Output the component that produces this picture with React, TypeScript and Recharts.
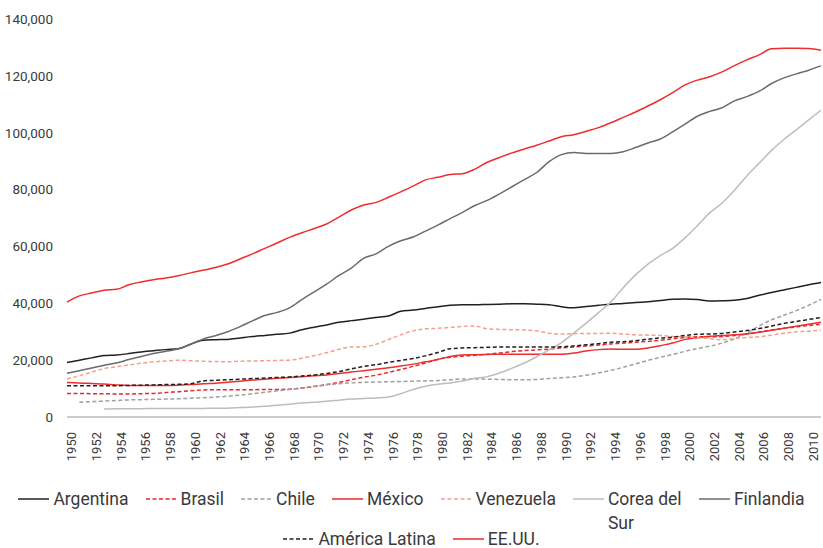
import React from "react";
import { LineChart, Line, XAxis, YAxis, Legend } from "recharts";

const years = [
  1950, 1951, 1952, 1953, 1954, 1955, 1956, 1957, 1958, 1959,
  1960, 1961, 1962, 1963, 1964, 1965, 1966, 1967, 1968, 1969,
  1970, 1971, 1972, 1973, 1974, 1975, 1976, 1977, 1978, 1979,
  1980, 1981, 1982, 1983, 1984, 1985, 1986, 1987, 1988, 1989,
  1990, 1991, 1992, 1993, 1994, 1995, 1996, 1997, 1998, 1999,
  2000, 2001, 2002, 2003, 2004, 2005, 2006, 2007, 2008, 2009,
  2010, 2011,
];

const argentina = [
  19200, 20000, 20800, 21600, 21800, 22300, 22900, 23300, 23700, 24000,
  25600, 27000, 27200, 27300, 27800, 28300, 28700, 29100, 29500, 30700,
  31600, 32400, 33300, 33900, 34400, 35000, 35500, 37200, 37600, 38200,
  38800, 39300, 39500, 39500, 39600, 39700, 39800, 39800, 39700, 39500,
  38800, 38400, 38900, 39300, 39700, 39900, 40300, 40500, 41000, 41400,
  41500, 41300, 40800, 40900, 41100, 41700, 42800, 43800, 44700, 45600,
  46500, 47300,
];

const brasil = [
  8300, 8300, 8200, 8200, 8100, 8100, 8200, 8300, 8600, 8900,
  9200, 9500, 9600, 9600, 9600, 9600, 9700, 9700, 9800, 10200,
  10700, 11400, 12200, 13100, 14000, 14700, 15700, 16700, 17800, 19000,
  20300, 21000, 21400, 21700, 22100, 22500, 23000, 23400, 23600, 23900,
  24300, 24600, 25000, 25300, 25700, 26000, 26300, 26600, 27000, 27500,
  28000, 28200, 28200, 28300, 28700, 29200, 29900, 30600, 31200, 31700,
  32200, 32600,
];

const chile = [
  null, 5200, 5400, 5600, 5800, 6000, 6100, 6200, 6300, 6400,
  6600, 6800, 7000, 7300, 7700, 8200, 8700, 9200, 9700, 10200,
  10800, 11300, 11700, 12000, 12200, 12300, 12400, 12500, 12600, 12700,
  12800, 13100, 13400, 13400, 13300, 13200, 13100, 13100, 13200, 13500,
  13800, 14100, 14700, 15500, 16400, 17500, 18700, 19900, 21000, 22000,
  23100, 24100, 24900, 26000, 27500, 29500, 32000, 34200, 35800, 37400,
  39300, 41400,
];

const mexico = [
  12100, 12000, 11800, 11600, 11300, 11100, 11100, 11100, 11100, 11200,
  11400, 11700, 11900, 12200, 12600, 13000, 13300, 13600, 13900, 14200,
  14500, 14800, 15300, 15800, 16300, 16800, 17300, 17900, 18600, 19400,
  20200, 21300, 21800, 21900, 22000, 22100, 22100, 22100, 22100, 22100,
  22100, 22500, 23200, 23700, 23900, 23800, 23800, 24300, 25100, 26000,
  27300, 27900, 28400, 28700, 28900, 29300, 29800, 30500, 31200, 31900,
  32600, 33300,
];

const venezuela = [
  13400, 14500, 15800, 17000, 17700, 18300, 18900, 19400, 19700, 20000,
  19800, 19600, 19500, 19400, 19600, 19700, 19800, 19900, 20000, 20700,
  21600, 22600, 23800, 24600, 24700, 25600, 27200, 28900, 30300, 31000,
  31200, 31500, 31900, 32000, 31000, 30800, 30700, 30600, 30300, 29500,
  29200, 29300, 29400, 29400, 29500, 29200, 28900, 28800, 28700, 28300,
  28100, 27900, 27500, 27200, 27600, 28000, 28200, 28800, 29500, 30000,
  30200, 30600,
];

const corea = [
  null, null, null, 2800, 2900, 2900, 2900, 3000, 3000, 3000,
  3000, 3000, 3100, 3100, 3300, 3500, 3800, 4100, 4500, 4900,
  5200, 5500, 5900, 6300, 6500, 6700, 7000, 8200, 9700, 10800,
  11500, 12000, 12700, 13600, 14200, 15500, 17200, 19000, 21200, 23600,
  26200, 29500, 33000, 36700, 40500, 45500, 50000, 53800, 56800, 59300,
  63000, 67300, 71800, 75300, 79800, 84800, 89300, 93800, 97600, 101000,
  104500, 107900,
];

const finlandia = [
  15400, 16300, 17200, 18200, 19000, 20200, 21300, 22300, 23100, 24000,
  25600, 27400, 28600, 30000, 31800, 33800, 35700, 36800, 38400, 41300,
  44000, 46700, 49800, 52400, 55800, 57400, 60000, 62000, 63300, 65400,
  67500, 69800, 72000, 74400, 76200, 78500, 81000, 83500, 86000, 89800,
  92300, 93000, 92700, 92700, 92700, 93300, 94800, 96400, 97800, 100300,
  103000, 105800, 107500, 108800, 111200, 112700, 114600, 117300, 119300, 120700,
  122000, 123500,
];

const americaLatina = [
  11000, 11000, 11000, 11000, 11000, 11100, 11200, 11300, 11400, 11500,
  11700, 12700, 12900, 13100, 13300, 13500, 13700, 13900, 14100, 14400,
  14800, 15300, 16000, 16900, 17800, 18400, 19200, 19900, 20600, 21500,
  22700, 24000, 24300, 24400, 24500, 24600, 24600, 24600, 24600, 24600,
  24700, 25000, 25400, 25800, 26300, 26500, 26800, 27400, 27800, 28100,
  28700, 29100, 29200, 29400, 29900, 30400, 31100, 32000, 32900, 33600,
  34300, 35000,
];

const eeuu = [
  40400, 42600, 43600, 44600, 44900, 46500, 47500, 48300, 48900, 49700,
  50700, 51600, 52600, 53800, 55600, 57400, 59300, 61200, 63200, 64800,
  66300, 67900, 70300, 72800, 74600, 75500, 77300, 79200, 81200, 83400,
  84300, 85300, 85600, 87200, 89600, 91300, 92900, 94300, 95600, 97100,
  98600, 99300, 100500, 101800, 103500, 105400, 107300, 109400, 111600, 114100,
  116800, 118500, 119700, 121400, 123600, 125600, 127400, 129500, 129700, 129700,
  129600, 129000,
];

const yTicks = [0, 20000, 40000, 60000, 80000, 100000, 120000, 140000];

const FONT = "Roboto, sans-serif";
const TEXT = "#3a3a3a";
const DASH = "4 2.5";

const series = [
  { key: "argentina", name: "Argentina", color: "#231f20", dash: undefined, values: argentina },
  { key: "brasil", name: "Brasil", color: "#e8262b", dash: DASH, values: brasil },
  { key: "chile", name: "Chile", color: "#a0a0a0", dash: DASH, values: chile },
  { key: "mexico", name: "México", color: "#ee2d2d", dash: undefined, values: mexico },
  { key: "venezuela", name: "Venezuela", color: "#f5a18a", dash: DASH, values: venezuela },
  { key: "corea", name: "Corea del Sur", color: "#bdbdbd", dash: undefined, values: corea },
  { key: "finlandia", name: "Finlandia", color: "#6b6b6b", dash: undefined, values: finlandia },
  { key: "americaLatina", name: "América Latina", color: "#231f20", dash: DASH, values: americaLatina },
  { key: "eeuu", name: "EE.UU.", color: "#ee2d2d", dash: undefined, values: eeuu },
];

const chartData = years.map((year, i) => {
  const row: Record<string, number | null> = { year };
  series.forEach((s) => {
    row[s.key] = s.values[i];
  });
  return row;
});

const formatY = (v: number) => v.toLocaleString("en-US");

// legend: 7 items on the first row, "Corea del Sur" wraps under itself
const renderLegend = () => (
  <div
    style={{
      display: "flex",
      flexWrap: "wrap",
      justifyContent: "center",
      rowGap: 21.5,
      columnGap: 17,
      width: 800,
      margin: "0 auto",
      fontFamily: FONT,
      fontSize: 17.5,
      color: TEXT,
    }}
  >
    {series.map((s) => (
      <div key={s.key} style={{ display: "flex", alignItems: "flex-start", height: 18 }}>
        <svg width={31} height={18} style={{ flexShrink: 0 }}>
          <line x1={0} x2={31} y1={9} y2={9} stroke={s.color} strokeWidth={1.5} strokeDasharray={s.dash} />
        </svg>
        {s.key === "corea" ? (
          <span style={{ marginLeft: 4, width: 74, lineHeight: "24px", marginTop: -3, display: "inline-block" }}>
            {s.name}
          </span>
        ) : (
          <span style={{ marginLeft: 4, lineHeight: "18px", whiteSpace: "nowrap" }}>{s.name}</span>
        )}
      </div>
    ))}
  </div>
);

export default function App() {
  return (
    <div style={{ position: "absolute", left: 0, top: 0, width: 823, height: 548, background: "#fff" }}>
      <LineChart
        width={823}
        height={548}
        data={chartData}
        margin={{ top: 19, right: 2, left: 0, bottom: 71 }}
      >
        <XAxis
          dataKey="year"
          interval={1}
          tickLine={false}
          tickSize={6}
          tickMargin={9}
          height={60}
          axisLine={{ stroke: "#999999", strokeWidth: 1 }}
          angle={-90}
          textAnchor="end"
          tick={{ fill: TEXT, fontSize: 13, fontFamily: FONT }}
        />
        <YAxis
          width={67}
          domain={[0, 140000]}
          ticks={yTicks}
          tickFormatter={formatY}
          axisLine={false}
          tickLine={false}
          tickSize={6}
          tickMargin={8}
          tick={{ fill: TEXT, fontSize: 13.5, fontFamily: FONT }}
        />
        <Legend
          layout="vertical"
          align="center"
          verticalAlign="middle"
          content={renderLegend}
          wrapperStyle={{ left: 0, top: 490, width: 823, height: 58 }}
        />
        {series.map((s) => (
          <Line
            key={s.key}
            type="monotone"
            dataKey={s.key}
            name={s.name}
            stroke={s.color}
            strokeWidth={1.5}
            strokeDasharray={s.dash}
            dot={false}
            activeDot={false}
            isAnimationActive={false}
          />
        ))}
      </LineChart>
    </div>
  );
}
